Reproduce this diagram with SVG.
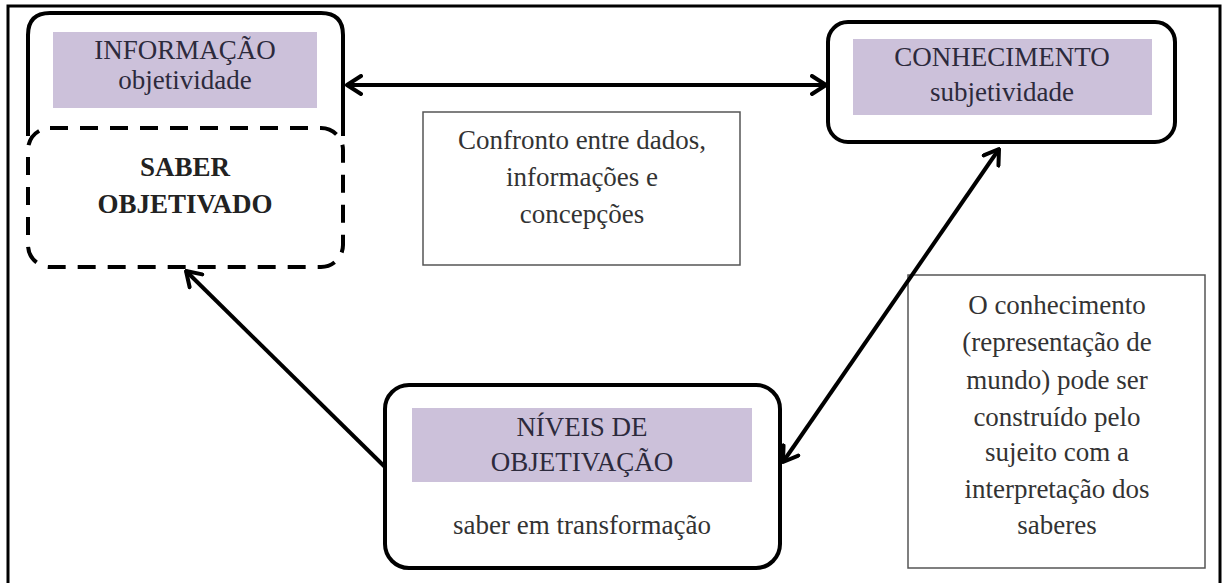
<svg xmlns="http://www.w3.org/2000/svg" width="1226" height="583" viewBox="0 0 1226 583">
<style>
.box{fill:#fff;stroke:#000;stroke-width:4}
.hl{fill:#ccc1da}
.note{fill:#fff;stroke:#555;stroke-width:1.5}
.t{font-size:27px;fill:#333;text-anchor:middle}
.tp{fill:#2c2a3c}
.b{font-weight:bold;fill:#222}
.conn{fill:none;stroke:#000;stroke-width:4}
</style>
<defs>
<marker id="ah" viewBox="0 0 18 22" refX="16" refY="11" markerWidth="18" markerHeight="22" markerUnits="userSpaceOnUse" orient="auto-start-reverse">
<path d="M2,2 L16,11 L2,20" fill="none" stroke="#000" stroke-width="4" stroke-linecap="round" stroke-linejoin="round"/>
</marker>
</defs>
<rect x="0" y="0" width="1226" height="583" fill="#fff"/>
<rect x="8" y="6" width="1212" height="600" fill="none" stroke="#000" stroke-width="3"/>
<g font-family="Liberation Serif, DejaVu Serif, serif">
<g id="informacao">
<path d="M28,136 V35 Q28,13 50,13 H321 Q343,13 343,35 V136" class="box" fill="none"/>
<rect x="53" y="32" width="264" height="76" class="hl"/>
<text x="185" y="59" class="t tp">INFORMAÇÃO</text>
<text x="185" y="89" class="t tp">objetividade</text>
</g>

<g id="saber">
<rect x="28" y="128" width="315" height="139" rx="22" fill="none" stroke="#000" stroke-width="4" stroke-dasharray="18,12"/>
<text x="185" y="176" class="t b">SABER</text>
<text x="185" y="213" class="t b">OBJETIVADO</text>
</g>

<g id="conhecimento">
<rect x="828" y="22" width="347" height="120" rx="20" class="box"/>
<rect x="853" y="39" width="299" height="76" class="hl"/>
<text x="1002" y="66" class="t tp">CONHECIMENTO</text>
<text x="1002" y="101" class="t tp">subjetividade</text>
</g>

<g id="confronto">
<rect x="423" y="112" width="317" height="153" class="note"/>
<text x="582" y="149" class="t">Confronto entre dados,</text>
<text x="582" y="186" class="t">informações e</text>
<text x="582" y="223" class="t">concepções</text>
</g>

<g id="niveis">
<rect x="385" y="385" width="395" height="183" rx="24" class="box"/>
<rect x="412" y="408" width="340" height="74" class="hl"/>
<text x="582" y="436" class="t tp">NÍVEIS DE</text>
<text x="582" y="471" class="t tp">OBJETIVAÇÃO</text>
<text x="582" y="534" class="t">saber em transformação</text>
</g>

<g id="nota-conhecimento">
<rect x="908" y="275" width="297" height="293" class="note"/>
<text x="1057" y="314" class="t">O conhecimento</text>
<text x="1057" y="351" class="t">(representação de</text>
<text x="1057" y="389" class="t">mundo) pode ser</text>
<text x="1057" y="426" class="t">construído pelo</text>
<text x="1057" y="461" class="t">sujeito com a</text>
<text x="1057" y="498" class="t">interpretação dos</text>
<text x="1057" y="534" class="t">saberes</text>
</g>
</g>
<g id="connectors">
<line x1="347" y1="85" x2="826" y2="85" class="conn" marker-start="url(#ah)" marker-end="url(#ah)"/>
<line x1="783" y1="462" x2="999" y2="149" class="conn" marker-start="url(#ah)" marker-end="url(#ah)"/>
<line x1="385" y1="467" x2="186" y2="271" class="conn" marker-end="url(#ah)"/>
</g>
</svg>
